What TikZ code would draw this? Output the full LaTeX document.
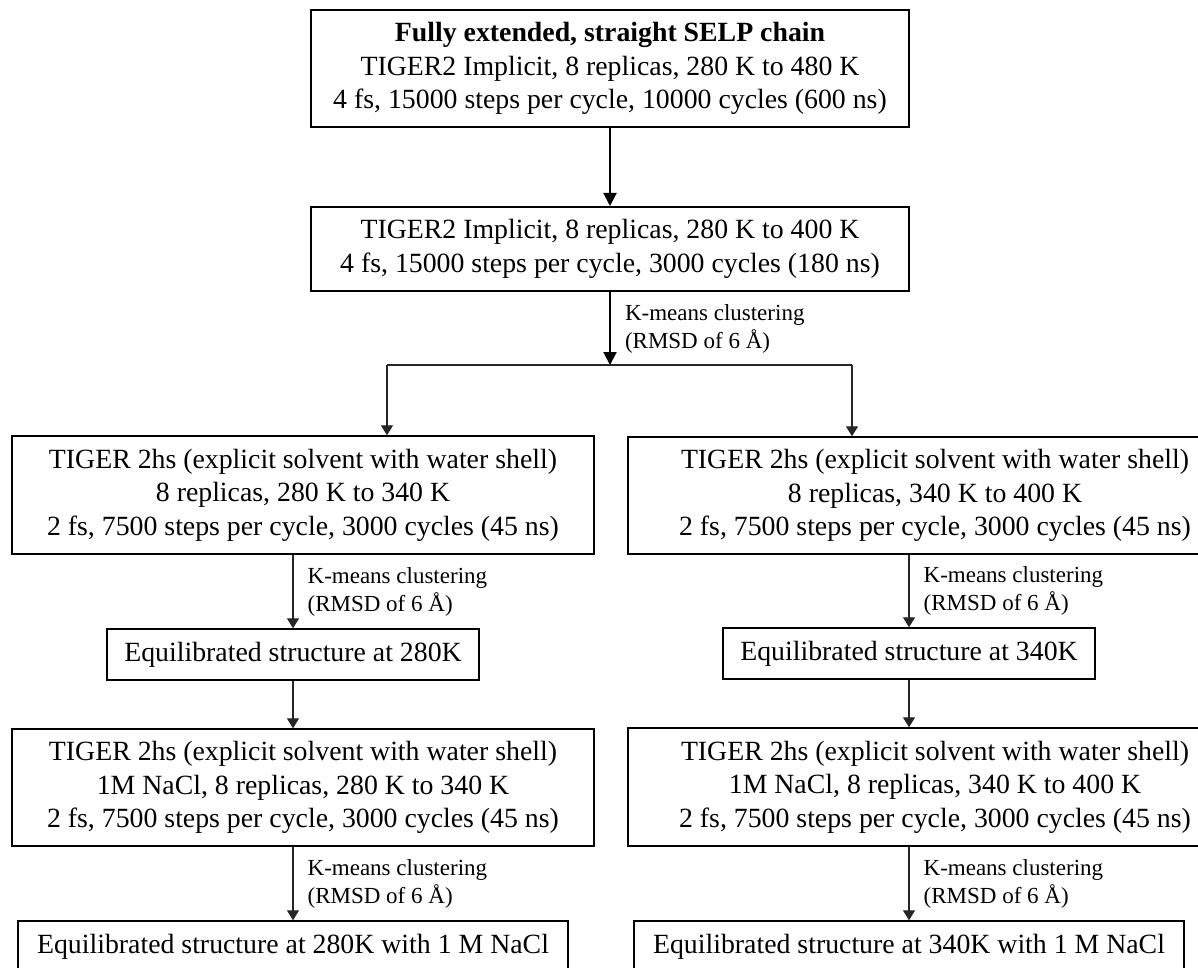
\documentclass[tikz,border=0pt]{standalone}
\usepackage{fontspec}
\setmainfont{Liberation Serif}
\usetikzlibrary{arrows.meta}

\begin{document}
\begin{tikzpicture}
            [x=0.5pt,y=-0.5pt,
             box/.style={draw,line width=1pt,align=center,inner sep=0pt,
                 font=\fontsize{13.9pt}{16.8pt}\selectfont},
             thinbox/.style={box,line width=0.7pt},
             lbl/.style={right,align=left,inner sep=2pt,xshift=5pt,
                 font=\fontsize{11.5pt}{14pt}\selectfont},
             main/.style={-{Triangle[length=6.5pt,width=6.5pt]},line width=1pt},
             sub/.style={-{Triangle[length=5pt,width=6pt]},line width=0.65pt,draw=black!85}]
            \useasboundingbox (0,0) rectangle (1198,968);
            \clip (0,0) rectangle (1198,968);

            % implicit solvent runs
            \node[box,minimum width=299pt,minimum height=58.5pt] (full) at (610,68.5)
                {\textbf{Fully extended, straight SELP chain}\\
                 TIGER2 Implicit, 8 replicas, 280 K to 480 K\\
                 4 fs, 15000 steps per cycle, 10000 cycles (600 ns)};
            \node[box,minimum width=299pt,minimum height=42pt] (impl) at (610,249)
                {TIGER2 Implicit, 8 replicas, 280 K to 400 K\\
                 4 fs, 15000 steps per cycle, 3000 cycles (180 ns)};
            \coordinate (split) at (610,365);
            \coordinate (bl) at (387,365);
            \coordinate (br) at (852,365);

            % water shell runs
            \node[thinbox,minimum width=291pt,minimum height=59pt] (lrex) at (303,495)
                {TIGER 2hs (explicit solvent with water shell)\\
                 8 replicas, 280 K to 340 K\\
                 2 fs, 7500 steps per cycle, 3000 cycles (45 ns)};
            \node[thinbox,minimum width=307pt,minimum height=58.5pt] (rrex) at (935,495.5)
                {TIGER 2hs (explicit solvent with water shell)\\
                 8 replicas, 340 K to 400 K\\
                 2 fs, 7500 steps per cycle, 3000 cycles (45 ns)};
            \node[thinbox,minimum width=186pt,minimum height=25.5pt] (leq) at (293,654.5)
                {Equilibrated structure at 280K};
            \node[thinbox,minimum width=186pt,minimum height=25.5pt] (req) at (909,653.5)
                {Equilibrated structure at 340K};

            % salt runs
            \node[thinbox,minimum width=291pt,minimum height=58.5pt] (lsalt) at (303,787.5)
                {TIGER 2hs (explicit solvent with water shell)\\
                 1M NaCl, 8 replicas, 280 K to 340 K\\
                 2 fs, 7500 steps per cycle, 3000 cycles (45 ns)};
            \node[thinbox,minimum width=307pt,minimum height=59pt] (rsalt) at (935,787)
                {TIGER 2hs (explicit solvent with water shell)\\
                 1M NaCl, 8 replicas, 340 K to 400 K\\
                 2 fs, 7500 steps per cycle, 3000 cycles (45 ns)};
            \node[thinbox,minimum width=275pt,minimum height=25.5pt] (lfin) at (293,946.5)
                {Equilibrated structure at 280K with 1 M NaCl};
            \node[thinbox,minimum width=275pt,minimum height=25.5pt] (rfin) at (909,946.5)
                {Equilibrated structure at 340K with 1 M NaCl};

            % main line
            \draw[main] (full) -- (impl);
            \draw[main] (impl) -- node[lbl] {K-means clustering\\(RMSD of 6 Å)} (split);
            \draw[line width=0.65pt,black!85] (bl) -- (br);
            \draw[sub] (bl) -- (bl |- lrex.north);
            \draw[sub] (br) -- (br |- rrex.north);

            % left branch
            \draw[sub] (lrex.south -| leq) -- node[lbl,text=black] {K-means clustering\\(RMSD of 6 Å)} (leq);
            \draw[sub] (leq) -- (leq |- lsalt.north);
            \draw[sub] (lsalt.south -| lfin) -- node[lbl,text=black] {K-means clustering\\(RMSD of 6 Å)} (lfin);

            % right branch
            \draw[sub] (rrex.south -| req) -- node[lbl,text=black] {K-means clustering\\(RMSD of 6 Å)} (req);
            \draw[sub] (req) -- (req |- rsalt.north);
            \draw[sub] (rsalt.south -| rfin) -- node[lbl,text=black] {K-means clustering\\(RMSD of 6 Å)} (rfin);
        \end{tikzpicture}
\end{document}
